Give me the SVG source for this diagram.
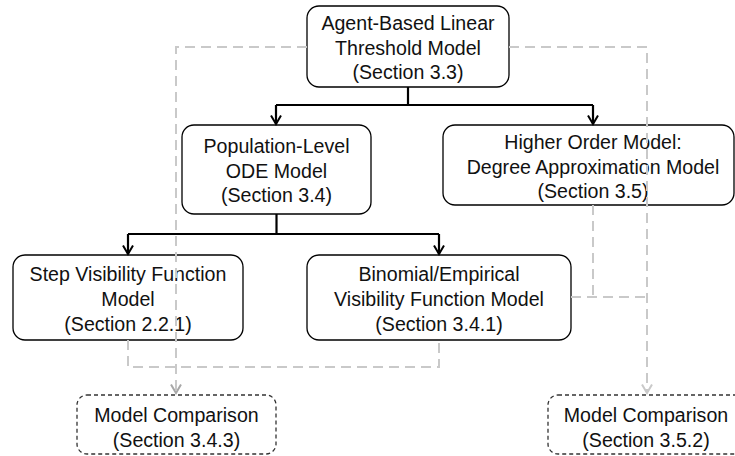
<svg xmlns="http://www.w3.org/2000/svg" width="735" height="456" viewBox="0 0 735 456">
<style>
.box{fill:none;stroke:#000;stroke-width:1.3}
.cmp{fill:none;stroke:#333;stroke-width:1.3;stroke-dasharray:4 3}
.t{font-family:"Liberation Sans",Arial,sans-serif;font-size:19.6px;fill:#111;text-anchor:middle}
.solid{fill:none;stroke:#000;stroke-width:2.2}
.dash{fill:none;stroke:#c9c9c9;stroke-width:2;stroke-dasharray:10 6}
</style>
<defs>
<marker id="ab" markerUnits="userSpaceOnUse" viewBox="0 -6 10 12" markerWidth="10" markerHeight="12" refX="8.5" refY="0" orient="auto" overflow="visible">
<path d="M0,-5 L8.5,0 L0,5" fill="none" stroke="#000" stroke-width="2"/>
</marker>
<marker id="ag" markerUnits="userSpaceOnUse" viewBox="0 -6 10 12" markerWidth="10" markerHeight="12" refX="8.5" refY="0" orient="auto" overflow="visible">
<path d="M0,-5 L8.5,0 L0,5" fill="none" stroke="#a8a8a8" stroke-width="2"/>
</marker>
<marker id="ag2" markerUnits="userSpaceOnUse" viewBox="0 -6 10 12" markerWidth="10" markerHeight="12" refX="8.5" refY="0" orient="auto" overflow="visible">
<path d="M0,-5 L8.5,0 L0,5" fill="none" stroke="#c9c9c9" stroke-width="2"/>
</marker>
</defs>

<g id="nodes">
<g id="n-agent">
<rect class="box" x="307" y="6" width="202" height="81" rx="12"/>
<text class="t" x="408" y="30">Agent-Based Linear</text>
<text class="t" x="408" y="55">Threshold Model</text>
<text class="t" x="408" y="79">(Section 3.3)</text>
</g>
<g id="n-ode">
<rect class="box" x="182" y="125" width="189" height="89" rx="12"/>
<text class="t" x="276.5" y="153">Population-Level</text>
<text class="t" x="276.5" y="178">ODE Model</text>
<text class="t" x="276.5" y="202">(Section 3.4)</text>
</g>
<g id="n-higher">
<rect class="box" x="443" y="125" width="291" height="80" rx="12"/>
<text class="t" x="593" y="149">Higher Order Model:</text>
<text class="t" x="593" y="174">Degree Approximation Model</text>
<text class="t" x="593" y="198">(Section 3.5)</text>
</g>
<g id="n-step">
<rect class="box" x="13" y="255" width="230" height="85" rx="12"/>
<text class="t" x="128" y="281">Step Visibility Function</text>
<text class="t" x="128" y="306">Model</text>
<text class="t" x="128" y="331">(Section 2.2.1)</text>
</g>
<g id="n-binomial">
<rect class="box" x="307" y="255" width="264" height="85" rx="12"/>
<text class="t" x="439" y="281">Binomial/Empirical</text>
<text class="t" x="439" y="306">Visibility Function Model</text>
<text class="t" x="439" y="331">(Section 3.4.1)</text>
</g>
<g id="n-cmp1">
<rect class="cmp" x="77" y="395" width="199" height="59" rx="10"/>
<text class="t" x="176.5" y="422">Model Comparison</text>
<text class="t" x="176.5" y="447">(Section 3.4.3)</text>
</g>
<g id="n-cmp2">
<rect class="cmp" x="548" y="395" width="199" height="59" rx="10"/>
<text class="t" x="646" y="422">Model Comparison</text>
<text class="t" x="646" y="447">(Section 3.5.2)</text>
</g>
</g>

<g id="connectors">
<path class="solid" d="M408,87 V105"/>
<path class="solid" d="M276,105 H593"/>
<path class="solid" d="M276,105 V124" marker-end="url(#ab)"/>
<path class="solid" d="M593,105 V124" marker-end="url(#ab)"/>
<path class="solid" d="M276.5,214 V234"/>
<path class="solid" d="M128,234 H439"/>
<path class="solid" d="M128,234 V254" marker-end="url(#ab)"/>
<path class="solid" d="M439,234 V254" marker-end="url(#ab)"/>
<path class="dash" d="M307,47 H176 V393" marker-end="url(#ag)"/>
<path class="dash" d="M509,47 H647 V393" marker-end="url(#ag2)"/>
<path class="dash" d="M593,205 V297"/>
<path class="dash" d="M571,297 H647"/>
<path class="dash" d="M128,340 V367 H439 V340"/>
</g>
</svg>
